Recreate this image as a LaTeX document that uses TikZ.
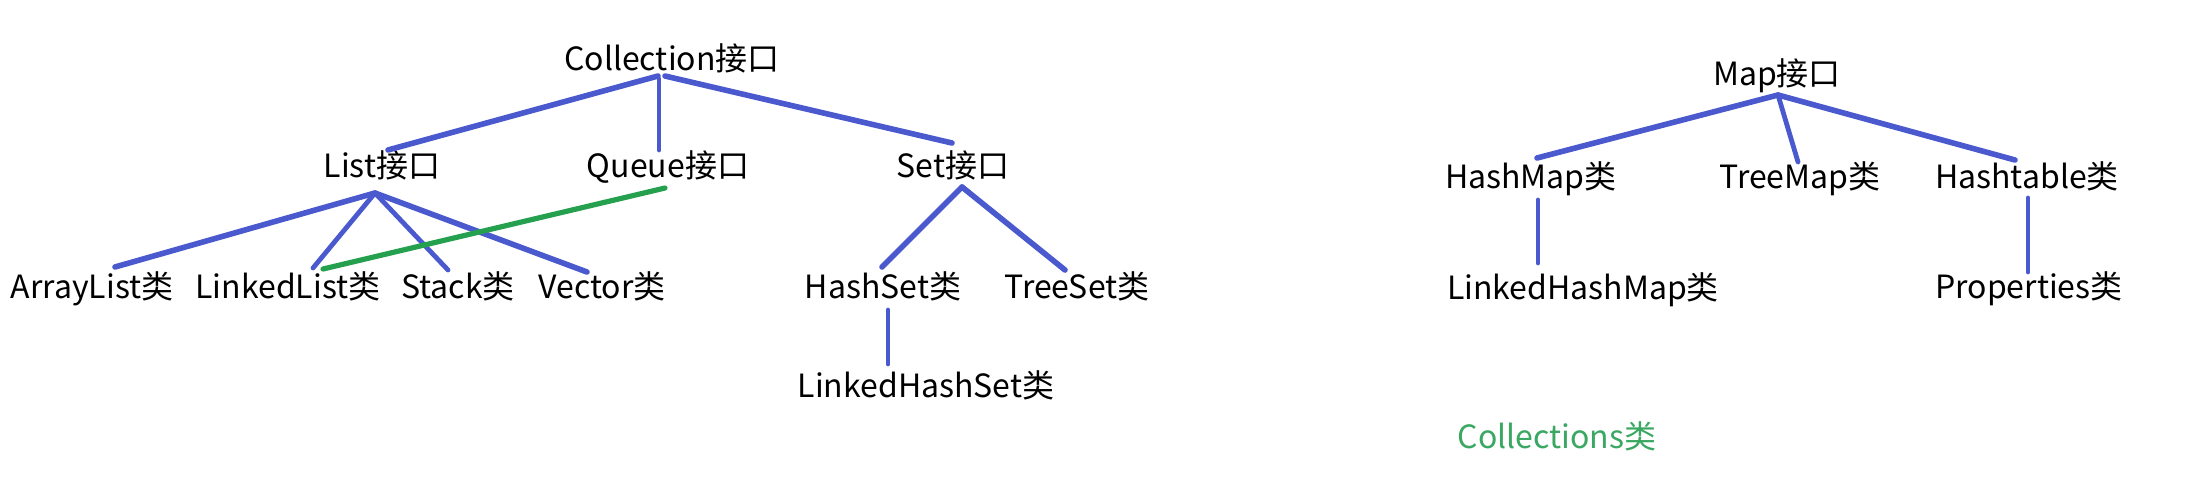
\documentclass[tikz,border=0pt]{standalone}
\usepackage{fontspec}
\newfontfamily\cjk{Noto Sans CJK SC}
\definecolor{lineblue}{RGB}{74,90,206}
\definecolor{linegreen}{RGB}{36,160,78}
\definecolor{textgreen}{RGB}{58,168,98}
\begin{document}
\begin{tikzpicture}[x=1pt,y=-1pt,
  lbl/.style={anchor=base,inner sep=0pt,font=\cjk\fontsize{32}{38}\selectfont},
  edge/.style={draw=lineblue,line width=5.6pt,line cap=round},
  thinedge/.style={draw=lineblue,line width=4.8pt,line cap=round},
  gedge/.style={draw=linegreen,line width=5.2pt,line cap=round}]
\fill[white] (0,0) rectangle (2200,496);
\useasboundingbox (0,0) rectangle (2200,496);
% Collection tree
\node[lbl] (coll) at (672,70) {Collection接口};
\node[lbl] (list) at (382,177) {List接口};
\node[lbl] (queue) at (668,177) {Queue接口};
\node[lbl] (set) at (953,177) {Set接口};
\node[lbl] (arr) at (92,298) {ArrayList类};
\node[lbl] (ll) at (288,298) {LinkedList类};
\node[lbl] (stack) at (458,298) {Stack类};
\node[lbl] (vec) at (602,298) {Vector类};
\node[lbl] (hs) at (883,298) {HashSet类};
\node[lbl] (ts) at (1077,298) {TreeSet类};
\node[lbl] (lhs) at (926,397) {LinkedHashSet类};
% Map tree
\node[lbl] (map) at (1777,85) {Map接口};
\node[lbl] (hm) at (1531,188) {HashMap类};
\node[lbl] (tm) at (1800,188) {TreeMap类};
\node[lbl] (ht) at (2027,188) {Hashtable类};
\node[lbl] (lhm) at (1583,299) {LinkedHashMap类};
\node[lbl] (prop) at (2029,298) {Properties类};
\node[lbl,text=textgreen] (colls) at (1557,448) {Collections类};
% connectors
\draw[edge] ([xshift=-14pt,yshift=-6pt]coll.base) -- ([xshift=6pt,yshift=27pt]list.base);
\draw[thinedge] ([xshift=-13pt,yshift=-9pt]coll.base) -- ([xshift=-9pt,yshift=27pt]queue.base);
\draw[edge] ([xshift=-7pt,yshift=-6pt]coll.base) -- ([xshift=-1pt,yshift=34pt]set.base);
\draw[edge] ([xshift=-7pt,yshift=-16pt]list.base) -- ([xshift=23pt,yshift=31pt]arr.base);
\draw[thinedge] ([xshift=-7pt,yshift=-16pt]list.base) -- ([xshift=25pt,yshift=30pt]ll.base);
\draw[thinedge] ([xshift=-7pt,yshift=-16pt]list.base) -- ([xshift=-10pt,yshift=28pt]stack.base);
\draw[edge] ([xshift=-7pt,yshift=-16pt]list.base) -- ([xshift=-15pt,yshift=26pt]vec.base);
\draw[gedge] ([xshift=-3pt,yshift=-11pt]queue.base) -- ([xshift=35pt,yshift=29pt]ll.base);
\draw[edge] ([xshift=9pt,yshift=-10pt]set.base) -- ([xshift=-1pt,yshift=31pt]hs.base);
\draw[edge] ([xshift=9pt,yshift=-10pt]set.base) -- ([xshift=-12pt,yshift=28pt]ts.base);
\draw[thinedge] ([xshift=5pt,yshift=-12pt]hs.base) -- ([xshift=-38pt,yshift=33pt]lhs.base);
\draw[edge] ([xshift=1pt,yshift=-10pt]map.base) -- ([xshift=6pt,yshift=30pt]hm.base);
\draw[thinedge] ([xshift=1pt,yshift=-10pt]map.base) -- ([xshift=-2pt,yshift=26pt]tm.base);
\draw[edge] ([xshift=1pt,yshift=-10pt]map.base) -- ([xshift=-12pt,yshift=28pt]ht.base);
\draw[thinedge] ([xshift=7pt,yshift=-12pt]hm.base) -- ([xshift=-45pt,yshift=36pt]lhm.base);
\draw[thinedge] ([xshift=1pt,yshift=-10pt]ht.base) -- ([xshift=-1pt,yshift=26pt]prop.base);
\end{tikzpicture}
\end{document}
